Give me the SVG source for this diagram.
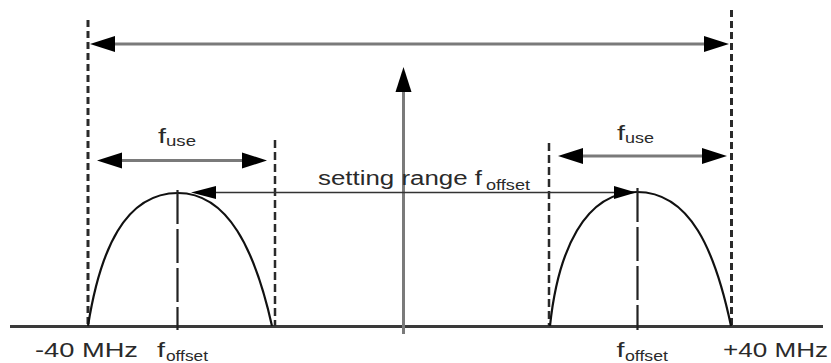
<svg xmlns="http://www.w3.org/2000/svg" width="831" height="363" viewBox="0 0 831 363">
<style>
.bg{fill:#fff}
.axis{stroke:#3a3a3a;stroke-width:3;fill:none}
.outer{stroke:#2a2a2a;stroke-width:3;stroke-dasharray:7 4;fill:none}
.inner{stroke:#2a2a2a;stroke-width:2.5;stroke-dasharray:8 4;fill:none}
.peak{stroke:#222;stroke-width:2.2;stroke-dasharray:34 5;fill:none}
.curve{stroke:#111;stroke-width:2.2;fill:none}
.gline{stroke:#7a7a7a;stroke-width:3;fill:none}
.tline{stroke:#333;stroke-width:1.6;fill:none}
.head{fill:#000}
.t{font-family:"Liberation Sans",Arial,sans-serif;font-size:20px;fill:#2a2a2a}
.s{font-family:"Liberation Sans",Arial,sans-serif;font-size:15px;fill:#2a2a2a}
</style>
<rect class="bg" x="0" y="0" width="831" height="363"/>
<g id="axis">
<line class="axis" x1="10" y1="326.5" x2="823" y2="326.5"/>
</g>
<g id="left-band">
<line class="outer" x1="88" y1="20" x2="88" y2="326"/>
<line class="inner" x1="275" y1="140" x2="275" y2="326"/>
<path class="curve" d="M88,326 C100,250 125,193 178,193 C228,193 255,250 272,326"/>
<line class="peak" x1="177.5" y1="190" x2="177.5" y2="330"/>
</g>
<g id="right-band">
<line class="outer" x1="731.5" y1="10" x2="731.5" y2="326"/>
<line class="inner" x1="549" y1="143" x2="549" y2="326"/>
<path class="curve" d="M550,326 C558,250 585,192 637,192 C690,192 715,250 731,326"/>
<line class="peak" x1="637.5" y1="188" x2="637.5" y2="330"/>
</g>
<g id="connectors">
<line class="gline" x1="110" y1="44" x2="710" y2="44"/>
<polygon class="head" points="90,44 115,36 115,52"/>
<polygon class="head" points="729,44 704,36 704,52"/>
<line class="gline" x1="403.5" y1="88" x2="403.5" y2="334"/>
<polygon class="head" points="403.5,67 395.5,92 411.5,92"/>
<line class="gline" x1="115" y1="160.5" x2="250" y2="160.5"/>
<polygon class="head" points="97,160.5 122,152.5 122,168.5"/>
<polygon class="head" points="267,160.5 242,152.5 242,168.5"/>
<line class="gline" x1="575" y1="156" x2="710" y2="156"/>
<polygon class="head" points="558,156 583,148 583,164"/>
<polygon class="head" points="727,156 702,148 702,164"/>
<line class="tline" x1="205" y1="192.5" x2="625" y2="192.5"/>
<polygon class="head" points="191,192.5 216,186 216,199"/>
<polygon class="head" points="636,192.5 614,186 614,199"/>
</g>
<g id="labels">
<text class="t" x="318" y="185" textLength="164" lengthAdjust="spacingAndGlyphs">setting range f</text>
<text class="s" x="486" y="190" textLength="44" lengthAdjust="spacingAndGlyphs">offset</text>
<text class="t" x="158" y="143" textLength="8" lengthAdjust="spacingAndGlyphs">f</text>
<text class="s" x="166" y="146" textLength="30" lengthAdjust="spacingAndGlyphs">use</text>
<text class="t" x="617" y="140" textLength="8" lengthAdjust="spacingAndGlyphs">f</text>
<text class="s" x="625" y="143" textLength="29" lengthAdjust="spacingAndGlyphs">use</text>
<text class="t" x="35" y="357" textLength="103" lengthAdjust="spacingAndGlyphs">-40 MHz</text>
<text class="t" x="157" y="357" textLength="8" lengthAdjust="spacingAndGlyphs">f</text>
<text class="s" x="166" y="361" textLength="42" lengthAdjust="spacingAndGlyphs">offset</text>
<text class="t" x="616.5" y="357" textLength="8" lengthAdjust="spacingAndGlyphs">f</text>
<text class="s" x="625" y="361" textLength="43" lengthAdjust="spacingAndGlyphs">offset</text>
<text class="t" x="723" y="357" textLength="105" lengthAdjust="spacingAndGlyphs">+40 MHz</text>
</g>
</svg>
